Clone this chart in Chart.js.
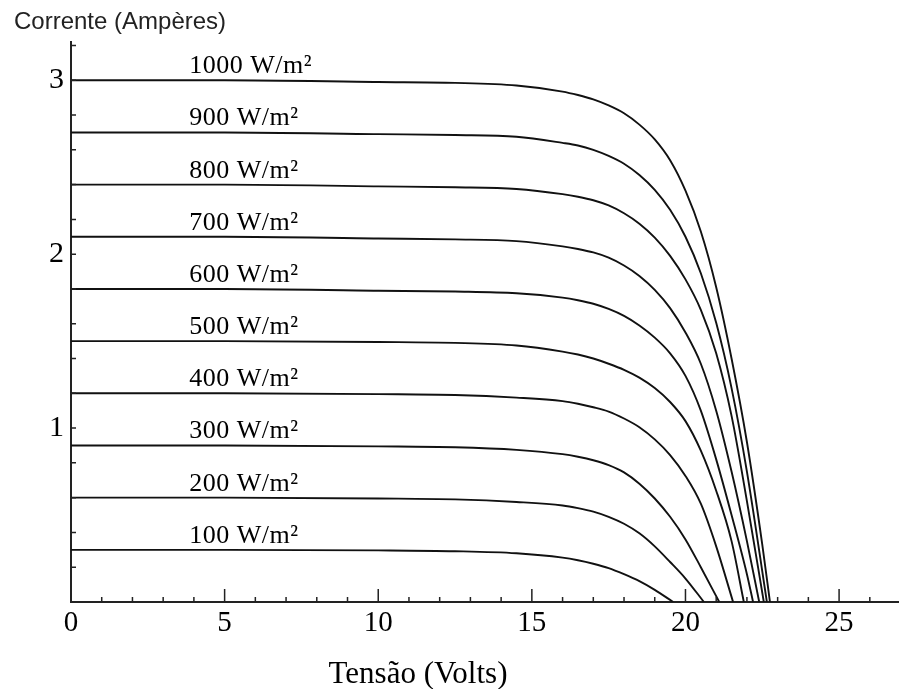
<!DOCTYPE html>
<html>
<head>
<meta charset="utf-8">
<script src="https://cdn.jsdelivr.net/npm/chart.js@4.4.1/dist/chart.umd.min.js"></script>
<style>
  html, body { margin: 0; padding: 0; background: #fff; }
</style>
</head>
<body>
<canvas id="ivChart" width="899" height="689"></canvas>
<script>
// curvas I-V de um módulo fotovoltaico para várias irradiâncias
const irradiance = [1000, 900, 800, 700, 600, 500, 400, 300, 200, 100];
const xTickLabels = [0, 5, 10, 15, 20, 25];
const yTickLabels = [1, 2, 3];

const volts1000 = [0, 5, 10, 12.5, 14.5, 16, 16.5, 17, 17.5, 18, 18.5, 19, 19.5, 20, 20.5, 21, 21.5, 22, 22.5, 22.75];
const amps1000  = [3.00, 3.00, 2.99, 2.985, 2.97, 2.935, 2.915, 2.89, 2.855, 2.81, 2.745, 2.66, 2.54, 2.365, 2.13, 1.81, 1.40, 0.92, 0.33, 0];
const volts900  = [0, 5, 10, 12.5, 14.5, 16, 16.5, 17, 17.5, 18, 18.5, 19, 19.5, 20, 20.5, 21, 21.5, 22, 22.65];
const amps900   = [2.70, 2.70, 2.69, 2.685, 2.675, 2.64, 2.625, 2.60, 2.565, 2.52, 2.455, 2.37, 2.255, 2.10, 1.89, 1.605, 1.23, 0.75, 0];
const volts800  = [0, 5, 10, 12.5, 14.5, 16, 16.5, 17, 17.5, 18, 18.5, 19, 19.5, 20, 20.5, 21, 21.5, 22, 22.55];
const amps800   = [2.40, 2.40, 2.39, 2.385, 2.375, 2.345, 2.33, 2.31, 2.28, 2.235, 2.175, 2.095, 1.99, 1.855, 1.68, 1.43, 1.07, 0.58, 0];
const volts700  = [0, 5, 10, 12.5, 14.5, 16, 16.5, 17, 17.5, 18, 18.5, 19, 19.5, 20, 20.5, 21, 21.5, 22, 22.4];
const amps700   = [2.10, 2.10, 2.09, 2.085, 2.075, 2.045, 2.03, 2.01, 1.98, 1.935, 1.875, 1.795, 1.69, 1.55, 1.37, 1.10, 0.75, 0.35, 0];
const volts600  = [0, 5, 10, 12.5, 14.5, 16, 16.5, 17, 17.5, 18, 18.5, 19, 19.5, 20, 20.5, 21, 21.5, 22, 22.2];
const amps600   = [1.80, 1.80, 1.79, 1.785, 1.775, 1.75, 1.735, 1.715, 1.685, 1.645, 1.59, 1.52, 1.43, 1.30, 1.10, 0.82, 0.50, 0.16, 0];
const volts500  = [0, 5, 10, 12.5, 14.5, 16, 16.5, 17, 17.5, 18, 18.5, 19, 19.5, 20, 20.5, 21, 21.5, 21.9];
const amps500   = [1.50, 1.50, 1.495, 1.49, 1.475, 1.44, 1.423, 1.40, 1.37, 1.335, 1.29, 1.23, 1.15, 1.04, 0.87, 0.64, 0.35, 0];
const volts400  = [0, 5, 10, 12.5, 14.5, 16, 16.5, 17, 17.5, 18, 18.5, 19, 19.5, 20, 20.5, 21, 21.55];
const amps400   = [1.20, 1.20, 1.195, 1.19, 1.175, 1.155, 1.14, 1.12, 1.095, 1.055, 1.005, 0.935, 0.845, 0.725, 0.565, 0.32, 0];
const volts300  = [0, 5, 10, 12.5, 14.5, 16, 16.5, 17, 17.5, 18, 18.5, 19, 19.5, 20, 20.5, 21.1];
const amps300   = [0.90, 0.90, 0.895, 0.89, 0.875, 0.85, 0.835, 0.815, 0.787, 0.745, 0.68, 0.595, 0.49, 0.36, 0.20, 0];
const volts200  = [0, 5, 10, 12.5, 14.5, 16, 16.5, 17, 17.5, 18, 18.5, 19, 19.5, 20, 20.6];
const amps200   = [0.60, 0.60, 0.595, 0.59, 0.575, 0.555, 0.54, 0.52, 0.49, 0.45, 0.395, 0.32, 0.23, 0.135, 0];
const volts100  = [0, 5, 10, 12.5, 14.5, 16, 16.5, 17, 17.5, 18, 18.5, 19, 19.6];
const amps100   = [0.30, 0.30, 0.297, 0.292, 0.28, 0.255, 0.24, 0.22, 0.195, 0.16, 0.12, 0.07, 0];

const curves = [
  [volts1000, amps1000], [volts900, amps900], [volts800, amps800],
  [volts700, amps700], [volts600, amps600], [volts500, amps500],
  [volts400, amps400], [volts300, amps300], [volts200, amps200],
  [volts100, amps100]
];

const serif = "'Liberation Serif', 'Times New Roman', serif";
const sans = "'Liberation Sans', Arial, sans-serif";

const datasets = curves.map((c, k) => ({
  label: irradiance[k] + " W/m²",
  data: c[0].map((v, i) => ({ x: v, y: c[1][i] })),
  borderColor: "#111",
  borderWidth: 1.9,
  pointRadius: 0,
  fill: false,
  cubicInterpolationMode: "monotone"
}));

// rótulos das curvas, marcas internas dos eixos e títulos
const decorations = {
  id: "decorations",
  afterDatasetsDraw(chart) {
    const { ctx, scales: { x, y } } = chart;
    ctx.save();
    ctx.fillStyle = "#000";
    ctx.font = "26px " + serif;
    ctx.textAlign = "left";
    ctx.textBaseline = "alphabetic";
    if ("letterSpacing" in ctx) ctx.letterSpacing = "0.5px";
    chart.data.datasets.forEach(ds => {
      const py = y.getPixelForValue(ds.data[0].y) - 7;
      ctx.fillText(ds.label, x.getPixelForValue(3.85), py);
    });
    ctx.restore();
  },
  afterDraw(chart) {
    const { ctx, scales: { x, y } } = chart;
    const bottom = y.getPixelForValue(0);
    const left = x.getPixelForValue(0);
    ctx.save();
    ctx.strokeStyle = "#222";
    ctx.lineWidth = 1.5;
    ctx.beginPath();
    for (let v = 1; v <= 26; v++) {
      const px = x.getPixelForValue(v);
      const len = v % 5 === 0 ? 13 : 5;
      ctx.moveTo(px, bottom);
      ctx.lineTo(px, bottom - len);
    }
    for (let a = 1; a <= 16; a++) {
      const py = y.getPixelForValue(a * 0.2);
      ctx.moveTo(left, py);
      ctx.lineTo(left + 5, py);
    }
    ctx.stroke();

    ctx.fillStyle = "#222";
    ctx.font = "24px " + sans;
    ctx.textAlign = "left";
    ctx.textBaseline = "alphabetic";
    ctx.fillText("Corrente (Ampères)", 14, 29);

    ctx.fillStyle = "#000";
    ctx.font = "31px " + serif;
    ctx.textAlign = "center";
    ctx.fillText("Tensão (Volts)", 418, 683);
    ctx.restore();
  }
};

new Chart(document.getElementById("ivChart"), {
  type: "line",
  data: { datasets },
  options: {
    responsive: false,
    animation: false,
    layout: { padding: { top: 42, right: 0, left: 0, bottom: 0 } },
    plugins: { legend: { display: false }, tooltip: { enabled: false } },
    scales: {
      x: {
        type: "linear",
        min: 0,
        max: 26.95,
        afterFit(scale) { scale.height = 87; },
        afterBuildTicks(scale) { scale.ticks = xTickLabels.map(v => ({ value: v })); },
        grid: { display: true, drawOnChartArea: false, drawTicks: false },
        border: { display: true, color: "#222", width: 2 },
        ticks: { color: "#000", padding: 4, font: { family: serif, size: 29 } }
      },
      y: {
        type: "linear",
        min: 0,
        max: 3.22,
        afterFit(scale) { scale.width = 71; },
        afterBuildTicks(scale) { scale.ticks = yTickLabels.map(v => ({ value: v })); },
        grid: { display: true, drawOnChartArea: false, drawTicks: false },
        border: { display: true, color: "#222", width: 2 },
        ticks: { color: "#000", padding: 7, font: { family: serif, size: 30 } }
      }
    }
  },
  plugins: [decorations]
});
</script>
</body>
</html>
